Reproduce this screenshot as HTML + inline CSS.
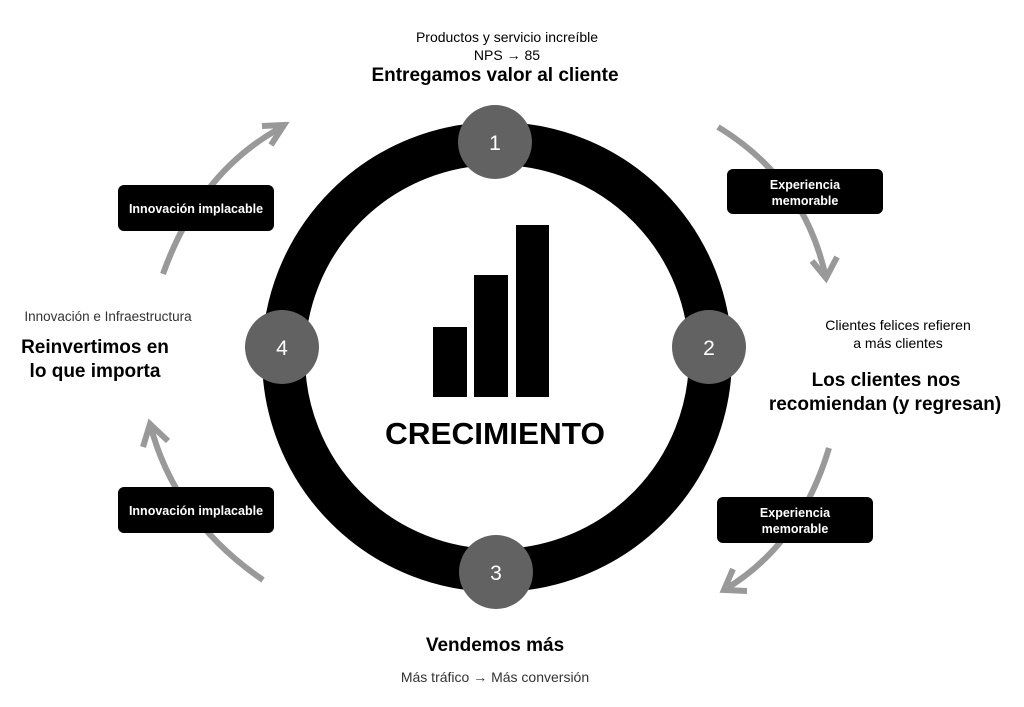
<!DOCTYPE html>
<html><head><meta charset="utf-8"><style>
html,body{margin:0;padding:0;background:#fff;}
body{width:1024px;height:707px;overflow:hidden;}
svg{display:block;}
text{font-family:"Liberation Sans",Arial,sans-serif;}
</style></head><body>
<svg width="1024" height="707" viewBox="0 0 1024 707" xmlns="http://www.w3.org/2000/svg">
<rect width="1024" height="707" fill="#fff"/>
<g fill="none" stroke="#999" stroke-width="6" stroke-linecap="butt" stroke-linejoin="miter">
  <path d="M163 274 Q200 170 284 126"/>
  <polyline points="262,126 284,125 271,145"/>
  <path d="M263 580 Q175 520 150 424"/>
  <polyline points="143,447 150,424 168,441"/>
  <path d="M718 127 Q805 180 826 278"/>
  <polyline points="812,261 826,278 837,257"/>
  <path d="M829 448 Q800 545 724 590"/>
  <polyline points="733,569 724,590 747,591"/>
</g>
<circle cx="497" cy="357" r="213.5" fill="none" stroke="#000" stroke-width="43"/>
<g fill="#626262">
  <circle cx="495" cy="142" r="37"/>
  <circle cx="709" cy="347" r="37"/>
  <circle cx="496" cy="572" r="37"/>
  <circle cx="282" cy="347" r="37"/>
</g>
<g fill="#fff" font-size="21" text-anchor="middle">
  <text x="495" y="150">1</text>
  <text x="709" y="355">2</text>
  <text x="496" y="580">3</text>
  <text x="282" y="355">4</text>
</g>
<rect x="433" y="327" width="34" height="70" fill="#000"/>
<rect x="474" y="275" width="34" height="122" fill="#000"/>
<rect x="516" y="225" width="33" height="172" fill="#000"/>
<text x="495" y="444" font-size="31" font-weight="bold" text-anchor="middle" textLength="220" lengthAdjust="spacingAndGlyphs">CRECIMIENTO</text>
<g fill="#000">
  <rect x="118" y="185" width="156" height="46" rx="6"/>
  <rect x="118" y="487" width="156" height="46" rx="6"/>
  <rect x="727" y="169" width="156" height="45" rx="6"/>
  <rect x="717" y="497" width="156" height="46" rx="6"/>
</g>
<g fill="#fff" font-size="12.5" font-weight="bold" text-anchor="middle">
  <text x="196" y="213">Innovación implacable</text>
  <text x="196" y="515">Innovación implacable</text>
  <text x="805" y="189">Experiencia</text>
  <text x="805" y="205">memorable</text>
  <text x="795" y="517">Experiencia</text>
  <text x="795" y="533">memorable</text>
</g>
<g fill="#000" text-anchor="middle">
  <text x="507" y="42" font-size="14">Productos y servicio increíble</text>
  <text x="507" y="60" font-size="14">NPS → 85</text>
  <text x="495" y="81" font-size="19" font-weight="bold">Entregamos valor al cliente</text>
  <text x="898" y="330" font-size="14">Clientes felices refieren</text>
  <text x="898" y="348" font-size="14">a más clientes</text>
  <text x="886" y="386" font-size="19" font-weight="bold">Los clientes nos</text>
  <text x="885" y="410" font-size="19" font-weight="bold">recomiendan (y regresan)</text>
  <text x="495" y="651" font-size="19" font-weight="bold">Vendemos más</text>
  <text x="495" y="682" font-size="14" fill="#333">Más tráfico → Más conversión</text>
  <text x="108" y="321" font-size="13.5" fill="#333">Innovación e Infraestructura</text>
  <text x="95" y="353" font-size="19" font-weight="bold">Reinvertimos en</text>
  <text x="95" y="377" font-size="19" font-weight="bold">lo que importa</text>
</g>
</svg>
</body></html>
